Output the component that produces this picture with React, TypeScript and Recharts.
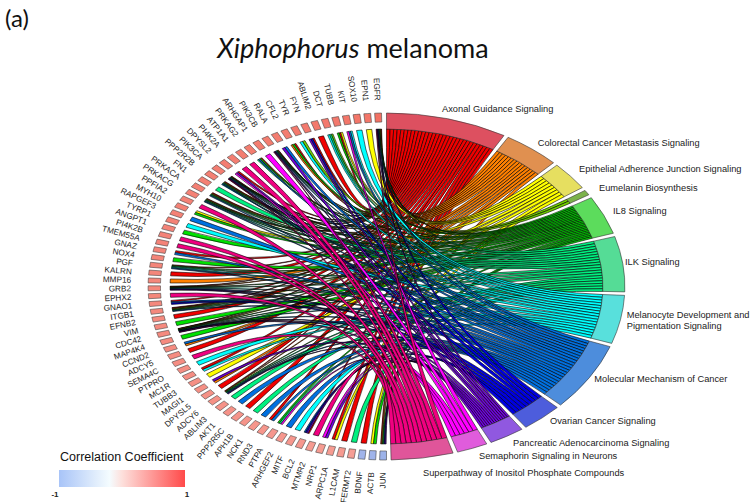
import React from 'react';
import { PieChart, Pie, Sector } from 'recharts';

const terms = ['Axonal Guidance Signaling', 'Colorectal Cancer Metastasis Signaling', 'Epithelial Adherence Junction Signaling', 'Eumelanin Biosynthesis', 'IL8 Signaling', 'ILK Signaling', 'Melanocyte Development and|Pigmentation Signaling', 'Molecular Mechanism of Cancer', 'Ovarian Cancer Signaling', 'Pancreatic Adenocarcinoma Signaling', 'Semaphorin Signaling in Neurons', 'Superpathway of Inositol Phosphate Compounds'];
const termSizes = [29.5, 13.8, 9.6, 1.7, 12.9, 18.5, 16.2, 22.8, 10, 8.6, 7.5, 15.1];
const termBand = ['#dd5060', '#e09050', '#e6df60', '#7bb24a', '#5cdc5c', '#55dc96', '#58e0dc', '#4d8ddc', '#4d5ddc', '#9058e0', '#e05cdc', '#e0559a'];
const ribbonFill = ['#f00000', '#ff8000', '#ffff00', '#70d000', '#00e000', '#00f080', '#00ffff', '#0070e0', '#0000e0', '#7000e0', '#ff00ff', '#f00080'];
const genes = ['EGFR', 'EPN1', 'SOX10', 'KIT', 'TUBB', 'DCT', 'ABLIM2', 'FYN', 'TYR', 'CFL2', 'RALA', 'PIK3CB', 'ARHGAP1', 'PRKAG2', 'ATP1A1', 'PI4K2A', 'DPYSL2', 'PIK3CA', 'PPP2R2B', 'FN1', 'PRKACA', 'PRKACG', 'PPFIA2', 'MYH10', 'RAPGEF3', 'TYRP1', 'ANGPT1', 'PI4K2B', 'TMEM55A', 'GNAZ', 'NOX4', 'PGF', 'KALRN', 'MMP16', 'GRB2', 'EPHX2', 'GNAO1', 'ITGB1', 'EFNB2', 'VIM', 'CDC42', 'MAP4K4', 'CCND2', 'ADCY5', 'SEMA4C', 'PTPRO', 'MC1R', 'TUBB3', 'MAGI1', 'DPYSL5', 'ADCY6', 'ABLIM3', 'AKT1', 'PPP2R5C', 'APH1B', 'NCK1', 'RND3', 'PTPA', 'ARHGEF2', 'MITF', 'BCL2', 'MTMR2', 'NRP1', 'ARPC1A', 'L1CAM', 'FERMT2', 'BDNF', 'ACTB', 'JUN'];
const geneCorrelation = [0.85, 0.82, 0.82, 0.82, 0.8, 0.8, 0.8, 0.8, 0.8, 0.78, 0.78, 0.78, 0.78, 0.78, 0.78, 0.77, 0.77, 0.77, 0.76, 0.76, 0.76, 0.75, 0.75, 0.75, 0.75, 0.75, 0.74, 0.74, 0.74, 0.74, 0.73, 0.73, 0.72, 0.72, 0.72, 0.72, 0.71, 0.71, 0.7, 0.7, 0.7, 0.7, 0.69, 0.69, 0.68, 0.68, 0.68, 0.67, 0.67, 0.66, 0.66, 0.65, 0.65, 0.64, 0.64, 0.63, 0.63, 0.62, 0.62, 0.62, 0.62, 0.6, 0.6, 0.6, 0.6, 0.58, -0.6, -0.6, -0.62];
const geneTerms = [
  [0, 1, 2, 4, 5, 7, 8, 9, 11], [2], [6], [6, 7, 10], [2, 0, 4], [3, 5, 6], [0], [0, 8, 9], [3, 6], [0, 4, 1],
  [7, 9], [0, 1, 4, 5, 6, 7, 8, 9, 11], [10], [0, 4, 7, 5], [11], [11], [0, 9, 10], [0, 1, 4, 5, 6, 7, 8, 9, 11], [0, 1, 4, 5, 7, 6], [5],
  [0, 1, 4, 5, 7], [0, 1, 4, 5, 6, 7], [11], [2, 4], [7], [6], [4], [11], [11], [0, 7],
  [4], [0, 4, 5, 6, 7], [0], [1], [0, 1, 4, 5, 6, 7, 8, 9], [11], [0, 7, 8], [0, 1, 2, 4, 5, 7], [0], [4],
  [0, 1, 2, 4, 5, 6, 7, 8, 9, 10], [4], [7, 1], [0], [11], [6], [0, 6], [2], [9, 1], [0],
  [0, 1, 4, 5, 6, 7, 9], [5], [7], [0], [5], [7], [0, 7], [4, 5, 10], [7], [6],
  [7, 8, 9, 0], [11], [10, 9], [0, 2], [0], [5], [0], [2, 4], [0, 1, 4, 5, 8, 9],
];

const SX = 1.374;
const CX = 386.5 / SX;
const CY = 286.5;
const R_OUT = 173.5;
const R_BAND = 157.5;
const R_TILE = 164.5;
const R_GENE_LABEL = 186;
const TERM_GAP = 1.136;
const TILE = 1.65;
const TILE_GAP = 0.95;
const GENE_START = 91.2;
const GENE_END = 270;
const RIBBON_TILE = 0.88;

const withGaps = (rows: any[], gap: number) => rows.flatMap((r, i) => (i < rows.length - 1 ? [r, { spacer: true, v: gap }] : [r]));

const termData = withGaps(terms.map((name, t) => ({ name, t, v: termSizes[t] })), TERM_GAP);

const geneData = withGaps(genes.map((name, g) => {
  const c = geneCorrelation[g];
  const mix = (a: number[], k: number) => `rgb(${a.map((x) => Math.round(255 + (x - 255) * k)).join(',')})`;
  return { name, g, v: TILE, fill: c >= 0 ? mix([240, 88, 72], c * 1.0) : mix([96, 130, 220], -c) };
}), TILE_GAP);

const linkRows = withGaps(terms.map((_, t) => {
  const idx = geneTerms.map((ts, g) => (ts.includes(t) ? g : -1)).filter((g) => g >= 0);
  return idx.map((g) => ({ t, g, v: termSizes[t] / idx.length, k: geneTerms[g].indexOf(t), n: geneTerms[g].length }));
}), TERM_GAP).flatMap((r: any) => (Array.isArray(r) ? r : [r]));

const pitch = (GENE_END - GENE_START) / (genes.length * TILE + (genes.length - 1) * TILE_GAP);

function Ribbon(p: any) {
  const row = p.payload || p;
  if (row.spacer) return <g />;
  const { cx, cy, startAngle, endAngle, outerRadius: R } = p;
  const pt = (a: number) => {
    const r = (a * Math.PI) / 180;
    return `${cx + R * Math.cos(r)} ${cy - R * Math.sin(r)}`;
  };
  const tile = GENE_START + row.g * (TILE + TILE_GAP) * pitch;
  const w = TILE * pitch * RIBBON_TILE;
  const base = tile + (TILE * pitch - w) / 2;
  const g1 = base + (w * row.k) / row.n;
  const g2 = base + (w * (row.k + 1)) / row.n;
  const d = `M${pt(startAngle)} A${R} ${R} 0 0 1 ${pt(endAngle)} Q${cx} ${cy} ${pt(g2)} A${R} ${R} 0 0 1 ${pt(g1)} Q${cx} ${cy} ${pt(startAngle)} Z`;
  return <path d={d} fill={ribbonFill[row.t]} stroke="#000" strokeWidth={0.5} vectorEffect="non-scaling-stroke" />;
}

function Band(p: any) {
  const row = p.payload || p;
  if (row.spacer) return <g />;
  return <Sector {...p} fill={termBand[row.t]} stroke="#333" strokeWidth={0.5} />;
}

function Tile(p: any) {
  const row = p.payload || p;
  if (row.spacer) return <g />;
  return <Sector {...p} fill={row.fill} stroke="#444" strokeWidth={0.5} />;
}

const termLabelPlacement = [[442, 108.7], [537.7, 142.3], [579, 168.3], [599, 187.7], [613, 210.7], [625, 261.7], [626.7, 315], [594.3, 378.3], [550, 421], [513, 442.7], [479, 455.3], [423, 472.3]];

function GeneLabel(p: any) {
  const row = p.payload || p;
  if (row.spacer) return <g />;
  const r = (p.midAngle * Math.PI) / 180;
  const x = p.cx + R_GENE_LABEL * Math.cos(r);
  const y = p.cy - R_GENE_LABEL * Math.sin(r);
  const rot = (Math.atan2(Math.sin(r), -Math.cos(r)) * 180) / Math.PI;
  return (
    <text transform={`translate(${x} ${y}) scale(${1 / SX} 1) rotate(${rot})`} textAnchor="end" dy="0.35em" fontSize={8.2} fontFamily="Liberation Sans" fill="#222">
      {row.name}
    </text>
  );
}

function TermLabel(p: any) {
  const row = p.payload || p;
  if (row.spacer) return <g />;
  const [sx, sy] = termLabelPlacement[row.t];
  const lines = String(row.name).split('|');
  return (
    <text transform={`scale(${1 / SX} 1)`} fontSize={9.3} fontFamily="Liberation Sans" fill="#222">
      {lines.map((l, i) => (
        <tspan key={l} x={sx} y={sy + 3.3 + i * 10.7}>{l}</tspan>
      ))}
    </text>
  );
}

export default function App() {
  return (
    <div style={{ position: 'absolute', left: 0, top: 0, width: 755, height: 502, overflow: 'hidden', background: '#fff' }}>
      <div style={{ position: 'absolute', left: 0, top: 0, transform: `scale(${SX},1)`, transformOrigin: '0 0' }}>
        <PieChart width={755 / SX} height={502} margin={{ top: 0, right: 0, bottom: 0, left: 0 }}>
          <Pie data={linkRows} dataKey="v" cx={CX} cy={CY} innerRadius={0} outerRadius={R_BAND} startAngle={90} endAngle={-88.9} paddingAngle={0} stroke="none" shape={Ribbon} isAnimationActive={false} />
          <Pie data={termData} dataKey="v" cx={CX} cy={CY} innerRadius={R_BAND} outerRadius={R_OUT} startAngle={90} endAngle={-88.9} paddingAngle={0} stroke="none" shape={Band} label={TermLabel} labelLine={false} isAnimationActive={false} />
          <Pie data={geneData} dataKey="v" cx={CX} cy={CY} innerRadius={R_TILE} outerRadius={R_OUT} startAngle={GENE_START} endAngle={GENE_END} paddingAngle={0} stroke="none" shape={Tile} label={GeneLabel} labelLine={false} isAnimationActive={false} />
        </PieChart>
      </div>
      <svg width={755} height={502} style={{ position: 'absolute', left: 0, top: 0 }}>
        <defs>
          <linearGradient id="cc" x1="0" x2="1" y1="0" y2="0">
            <stop offset="0" stopColor="#a8c4f8" />
            <stop offset="0.3" stopColor="#e2eefc" />
            <stop offset="0.4" stopColor="#f4fcff" />
            <stop offset="0.5" stopColor="#fde0dc" />
            <stop offset="1" stopColor="#ff4a4a" />
          </linearGradient>
        </defs>
        <text x={5} y={27} fontFamily="Lato" fontSize={24} fill="#111">(a)</text>
        <text x={353} y={58} textAnchor="middle" fontFamily="Lato" fontSize={27} fill="#111">
          <tspan fontStyle="italic">Xiphophorus</tspan> melanoma
        </text>
        <text x={60} y={461} fontFamily="Liberation Sans" fontSize={12.5} fill="#111">Correlation Coefficient</text>
        <rect x={59} y={470} width={126} height={17} fill="url(#cc)" />
        <text x={55} y={497} textAnchor="middle" fontFamily="Liberation Sans" fontWeight="bold" fontSize={8} fill="#222">-1</text>
        <text x={187} y={497} textAnchor="middle" fontFamily="Liberation Sans" fontWeight="bold" fontSize={8} fill="#222">1</text>
      </svg>
    </div>
  );
}
